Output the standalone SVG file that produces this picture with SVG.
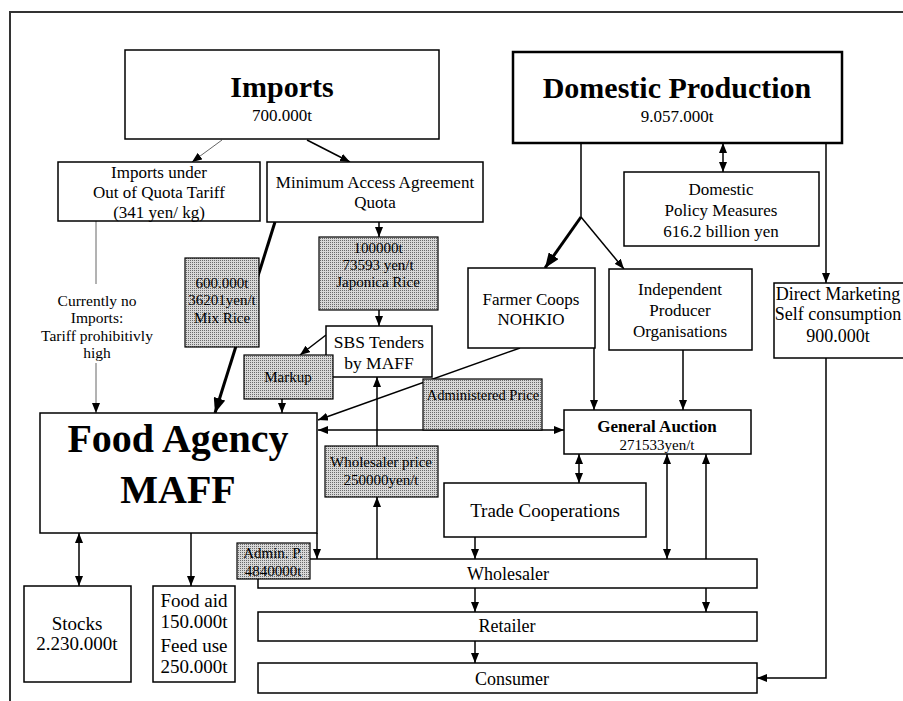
<svg xmlns="http://www.w3.org/2000/svg" width="903" height="701" viewBox="0 0 903 701">
<defs>
<pattern id="dots" width="2" height="2" patternUnits="userSpaceOnUse"><rect width="2" height="2" style="fill:#d8d8d8;stroke:none"/><rect width="1" height="1" style="fill:#6a6a6a;stroke:none"/></pattern>
<marker id="a" viewBox="0 0 10 8" refX="10" refY="4" markerWidth="10" markerHeight="8" markerUnits="userSpaceOnUse" orient="auto-start-reverse"><path d="M0,0 L10,4 L0,8 z" style="fill:#000;stroke:none"/></marker>
<marker id="big" viewBox="0 0 15 12" refX="15" refY="6" markerWidth="15" markerHeight="12" markerUnits="userSpaceOnUse" orient="auto"><path d="M0,0 L15,6 L0,12 z" style="fill:#000;stroke:none"/></marker>
</defs>
<style>
.n rect{fill:#fff;stroke:#000;stroke-width:1.5}
.n rect.sh{fill:url(#dots);stroke-width:1.2}
text{font-family:"Liberation Serif","Times New Roman",serif;fill:#000;text-anchor:middle}
.c path{fill:none;stroke:#000;stroke-width:1.5}
.c path.thin{stroke:#666;stroke-width:1}
.c path.thick{stroke-width:3}
.e{marker-end:url(#a)}
.d{marker-start:url(#a);marker-end:url(#a)}
.t{font-size:17px}
.s{font-size:15px}
</style>
<rect x="0" y="0" width="903" height="701" fill="#fff"/>
<path d="M10,701 V12 H903" fill="none" stroke="#333" stroke-width="2"/>

<g class="c" id="connectors">
<path class="thin e" d="M222,140 L192,162"/>
<path class="e" d="M307,140 L350,162"/>
<path d="M581,143 V217"/>
<path class="thick" d="M581,217 L545,268" marker-end="url(#big)"/>
<path class="e" d="M581,217 L624,269"/>
<path class="d" d="M723,143 V172"/>
<path class="e" d="M826,143 V283"/>
<path class="e" d="M379,222 V237"/>
<path class="e" d="M379,310 V326"/>
<path class="thick" d="M275,222 L215,413" marker-end="url(#big)"/>
<path class="thin" d="M96,221 V284"/>
<path class="thin e" d="M96,363 V413"/>
<path class="e" d="M326,335 L300,355"/>
<path class="e" d="M282,399 V413"/>
<path class="e" d="M520,348 L318,420"/>
<path class="d" d="M318,430 H564"/>
<path class="e" d="M594,348 V410"/>
<path class="e" d="M683,350 V410"/>
<path class="e" d="M377,559 V497"/>
<path class="e" d="M377,446 V377"/>
<path class="e" d="M317,533 V559"/>
<path class="d" d="M579,454 V483"/>
<path class="d" d="M667,454 V559"/>
<path class="d" d="M706,454 V612"/>
<path class="e" d="M475,537 V559"/>
<path class="e" d="M475,588 V612"/>
<path class="e" d="M475,641 V663"/>
<path class="e" d="M826,358 V678 H757"/>
<path class="d" d="M79,533 V586"/>
<path class="e" d="M191,533 V586"/>
</g>

<g class="n" id="imports"><rect x="125" y="50" width="314" height="89"/>
<text x="282" y="97" font-size="30" font-weight="bold">Imports</text>
<text x="282" y="121" class="t">700.000t</text></g>

<g class="n" id="domestic"><rect x="513" y="52" width="329" height="91" style="stroke-width:2.5"/>
<text x="677" y="98" font-size="30" font-weight="bold">Domestic Production</text>
<text x="677" y="122" class="t">9.057.000t</text></g>

<g class="n" id="outquota"><rect x="58" y="162" width="202" height="59"/>
<text x="159" y="178" class="t">Imports under</text>
<text x="159" y="198" class="t">Out of Quota Tariff</text>
<text x="159" y="218" class="t">(341 yen/ kg)</text></g>

<g class="n" id="minaccess"><rect x="267" y="162" width="216" height="60"/>
<text x="375" y="188" class="t">Minimum Access Agreement</text>
<text x="375" y="208" class="t">Quota</text></g>

<g class="n" id="policy"><rect x="624" y="172" width="195" height="74"/>
<text x="721" y="195" class="t">Domestic</text>
<text x="721" y="216" class="t">Policy Measures</text>
<text x="721" y="237" class="t">616.2 billion yen</text></g>

<g class="n" id="farmer"><rect x="468" y="268" width="127" height="80"/>
<text x="531" y="305" class="t">Farmer Coops</text>
<text x="531" y="325" class="t">NOHKIO</text></g>

<g class="n" id="indep"><rect x="609" y="269" width="143" height="81"/>
<text x="680" y="295" class="t">Independent</text>
<text x="680" y="316" class="t">Producer</text>
<text x="680" y="337" class="t">Organisations</text></g>

<g class="n" id="direct"><rect x="774" y="283" width="135" height="75"/>
<text x="838" y="300" font-size="18">Direct Marketing</text>
<text x="838" y="320" font-size="18">Self consumption</text>
<text x="838" y="342" font-size="18">900.000t</text></g>

<g class="n" id="japonica"><rect class="sh" x="319" y="237" width="119" height="73"/>
<text x="378" y="253" class="s">100000t</text>
<text x="378" y="270" class="s">73593 yen/t</text>
<text x="378" y="287" class="s">Japonica Rice</text></g>

<g class="n" id="mixrice"><rect class="sh" x="185" y="258" width="74" height="89"/>
<text x="222" y="288" class="s">600.000t</text>
<text x="222" y="305" class="s">36201yen/t</text>
<text x="222" y="323" class="s">Mix Rice</text></g>

<g class="n" id="noimports">
<text x="97" y="306" font-size="15.5">Currently no</text>
<text x="97" y="323" font-size="15.5">Imports:</text>
<text x="97" y="341" font-size="15.5">Tariff prohibitivly</text>
<text x="97" y="358" font-size="15.5">high</text></g>

<g class="n" id="sbs"><rect x="326" y="326" width="106" height="51"/>
<text x="379" y="348" font-size="17.5">SBS Tenders</text>
<text x="379" y="369" font-size="17.5">by MAFF</text></g>

<g class="n" id="markup"><rect class="sh" x="244" y="355" width="89" height="44"/>
<text x="288" y="382" font-size="15">Markup</text></g>

<g class="n" id="admprice"><rect class="sh" x="423" y="379" width="119" height="51"/>
<text x="483" y="400" font-size="14.5">Administered  Price</text></g>

<g class="n" id="foodagency"><rect x="40" y="413" width="277" height="120"/>
<text x="178" y="452" font-size="40" font-weight="bold">Food Agency</text>
<text x="178" y="503" font-size="40" font-weight="bold">MAFF</text></g>

<g class="n" id="auction"><rect x="564" y="410" width="187" height="44"/>
<text x="657" y="432" class="t" font-weight="bold">General Auction</text>
<text x="657" y="450" class="s">271533yen/t</text></g>

<g class="n" id="whprice"><rect class="sh" x="325" y="446" width="113" height="51"/>
<text x="381" y="467" class="s">Wholesaler price</text>
<text x="381" y="485" class="s">250000yen/t</text></g>

<g class="n" id="trade"><rect x="444" y="483" width="202" height="54"/>
<text x="545" y="517" font-size="19">Trade Cooperations</text></g>

<g class="n" id="wholesaler"><rect x="258" y="559" width="499" height="29"/>
<text x="508" y="580" font-size="18">Wholesaler</text></g>

<g class="n" id="retailer"><rect x="258" y="612" width="499" height="29"/>
<text x="507" y="632" font-size="18">Retailer</text></g>

<g class="n" id="consumer"><rect x="258" y="663" width="499" height="30"/>
<text x="512" y="685" font-size="18">Consumer</text></g>

<g class="n" id="adminp"><rect class="sh" x="237" y="543" width="73" height="36"/>
<text x="273" y="558" font-size="15">Admin. P.</text>
<text x="273" y="576" font-size="15">4840000t</text></g>

<g class="n" id="stocks"><rect x="24" y="586" width="107" height="96"/>
<text x="77" y="630" font-size="19">Stocks</text>
<text x="77" y="650" font-size="19">2.230.000t</text></g>

<g class="n" id="foodaid"><rect x="153" y="586" width="82" height="96"/>
<text x="194" y="607" font-size="19">Food aid</text>
<text x="194" y="628" font-size="19">150.000t</text>
<text x="194" y="652" font-size="19">Feed use</text>
<text x="194" y="673" font-size="19">250.000t</text></g>
</svg>
